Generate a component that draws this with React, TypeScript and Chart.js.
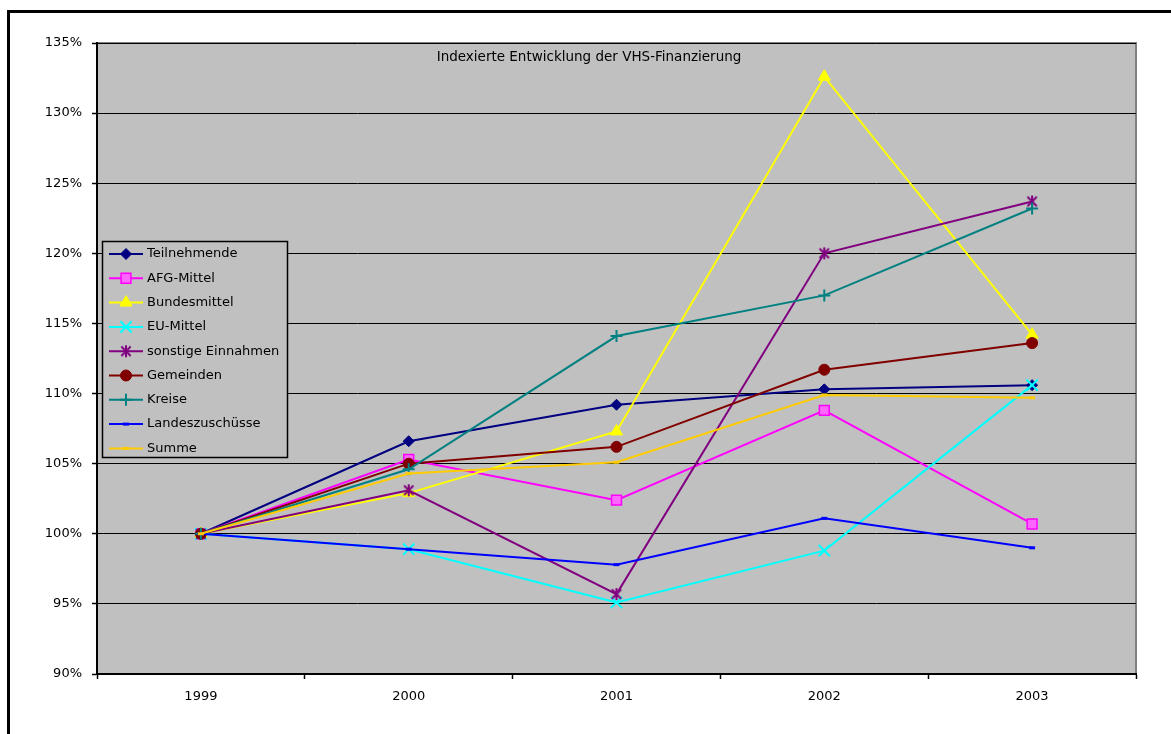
import React, { useEffect, useRef } from 'react';
import { Chart, registerables } from 'chart.js';
import { drawPoint } from 'chart.js/helpers';

Chart.register(...registerables);

// Index values (1999 = 100 %)
const years = ['1999', '2000', '2001', '2002', '2003'];
const teilnehmende = [100, 106.6, 109.2, 110.3, 110.6];
const afgMittel = [100, 105.3, 102.4, 108.8, 100.7];
const bundesmittel = [100, 102.9, 107.3, 132.6, 114.2];
const euMittel = [100, 98.9, 95.1, 98.8, 110.6];
const sonstigeEinnahmen = [100, 103.1, 95.7, 120.0, 123.7];
const gemeinden = [100, 105.0, 106.2, 111.7, 113.6];
const kreise = [100, 104.6, 114.1, 117.0, 123.2];
const landeszuschuesse = [100, 98.9, 97.8, 101.1, 99.0];
const summe = [100, 104.3, 105.1, 109.9, 109.7];

const yMin = 90;
const yMax = 135;
const yStep = 5;

const chartTitle = 'Indexierte Entwicklung der VHS-Finanzierung';

const W = 1171;
const H = 734;
const FONT = '"DejaVu Sans", Tahoma, Verdana, sans-serif';

function makeStar(color: string, size: number): HTMLCanvasElement {
  const c = document.createElement('canvas');
  c.width = size;
  c.height = size;
  const g = c.getContext('2d')!;
  g.strokeStyle = color;
  g.lineWidth = 2;
  const m = size / 2;
  const r = size / 2 - 1;
  const d = r * 0.78;
  g.beginPath();
  g.moveTo(m, m - r);
  g.lineTo(m, m + r);
  g.moveTo(m - d, m - d);
  g.lineTo(m + d, m + d);
  g.moveTo(m + d, m - d);
  g.lineTo(m - d, m + d);
  g.stroke();
  return c;
}

type Series = {
  label: string;
  data: number[];
  color: string;
  pointStyle: any;
  radius: number;
  fill: string;
  pointBorder: number;
};

function buildSeries(): Series[] {
  return [
    { label: 'Teilnehmende', data: teilnehmende, color: '#000080', pointStyle: 'rectRot', radius: 5.5, fill: '#000080', pointBorder: 1 },
    { label: 'AFG-Mittel', data: afgMittel, color: '#FF00FF', pointStyle: 'rect', radius: 7, fill: '#FF66FF', pointBorder: 1.5 },
    { label: 'Bundesmittel', data: bundesmittel, color: '#FFFF00', pointStyle: 'triangle', radius: 7, fill: '#FFFF00', pointBorder: 1 },
    { label: 'EU-Mittel', data: euMittel, color: '#00FFFF', pointStyle: 'crossRot', radius: 8, fill: '#00FFFF', pointBorder: 2 },
    { label: 'sonstige Einnahmen', data: sonstigeEinnahmen, color: '#800080', pointStyle: makeStar('#800080', 14), radius: 7, fill: '#800080', pointBorder: 2 },
    { label: 'Gemeinden', data: gemeinden, color: '#800000', pointStyle: 'circle', radius: 5.5, fill: '#800000', pointBorder: 1 },
    { label: 'Kreise', data: kreise, color: '#008080', pointStyle: 'cross', radius: 6, fill: '#008080', pointBorder: 2 },
    { label: 'Landeszuschüsse', data: landeszuschuesse, color: '#0000FF', pointStyle: 'line', radius: 3, fill: '#0000FF', pointBorder: 3 },
    { label: 'Summe', data: summe, color: '#FFCC00', pointStyle: 'line', radius: 3, fill: '#FFCC00', pointBorder: 3 },
  ];
}

export default function App() {
  const canvasRef = useRef<HTMLCanvasElement | null>(null);

  useEffect(() => {
    const canvas = canvasRef.current;
    if (!canvas) return;
    const series = buildSeries();

    const plotArea = {
      id: 'plotArea',
      beforeDraw(chart: any) {
        const { ctx, chartArea: a } = chart;
        ctx.save();
        ctx.fillStyle = '#C0C0C0';
        ctx.fillRect(a.left, a.top, a.right - a.left, a.bottom - a.top);
        ctx.strokeStyle = '#808080';
        ctx.lineWidth = 2;
        ctx.strokeRect(a.left, a.top, a.right - a.left, a.bottom - a.top);
        ctx.restore();
      },
    };

    const titleAndLegend = {
      id: 'titleAndLegend',
      afterDraw(chart: any) {
        const { ctx } = chart;
        ctx.save();
        ctx.font = `13.5px ${FONT}`;
        ctx.fillStyle = '#000';
        ctx.textAlign = 'center';
        ctx.textBaseline = 'middle';
        ctx.fillText(chartTitle, 589, 57);

        const lx = 102.5;
        const ly = 241.5;
        const lw = 185;
        const lh = 216;
        ctx.fillStyle = '#C0C0C0';
        ctx.fillRect(lx, ly, lw, lh);
        ctx.strokeStyle = '#000';
        ctx.lineWidth = 1.5;
        ctx.strokeRect(lx, ly, lw, lh);

        series.forEach((s, i) => {
          const y = 254 + i * 24.3;
          ctx.strokeStyle = s.color;
          ctx.lineWidth = 2;
          ctx.beginPath();
          ctx.moveTo(109, y);
          ctx.lineTo(143, y);
          ctx.stroke();
          ctx.fillStyle = s.fill;
          ctx.strokeStyle = s.color;
          ctx.lineWidth = s.pointBorder;
          drawPoint(ctx, { pointStyle: s.pointStyle, radius: s.radius, rotation: 0, borderWidth: s.pointBorder } as any, 126, y);
          ctx.fillStyle = '#000';
          ctx.font = `13px ${FONT}`;
          ctx.textAlign = 'left';
          ctx.textBaseline = 'middle';
          ctx.fillText(s.label, 147, y);
        });
        ctx.restore();
      },
    };

    const chart = new Chart(canvas, {
      type: 'line',
      data: {
        labels: years,
        datasets: series.map((s, i) => ({
          label: s.label,
          data: s.data,
          order: -i,
          borderColor: s.color,
          backgroundColor: s.fill,
          borderWidth: 2,
          tension: 0,
          fill: false,
          pointStyle: s.pointStyle,
          pointRadius: s.radius,
          pointHoverRadius: s.radius,
          pointBackgroundColor: s.fill,
          pointBorderColor: s.color,
          pointBorderWidth: s.pointBorder,
        })),
      },
      options: {
        responsive: false,
        animation: false,
        devicePixelRatio: 1,
        layout: { padding: { top: 43, right: 35, bottom: 0, left: 0 } },
        plugins: {
          legend: { display: false },
          title: { display: false },
          tooltip: { enabled: false },
        },
        events: [],
        scales: {
          x: {
            type: 'category',
            offset: true,
            afterFit(scale: any) {
              scale.height = 60;
            },
            grid: {
              offset: true,
              drawOnChartArea: false,
              drawTicks: true,
              tickLength: 5,
              color: '#000',
              tickColor: '#000',
              tickWidth: 1.5,
            },
            border: { display: true, color: '#000', width: 2 },
            ticks: {
              color: '#000',
              padding: 10,
              maxRotation: 0,
              font: { family: FONT, size: 13 },
            },
          },
          y: {
            type: 'linear',
            min: yMin,
            max: yMax,
            afterFit(scale: any) {
              scale.width = 97;
            },
            grid: {
              color: '#000',
              lineWidth: 1,
              borderDash: [2, 1],
              drawTicks: true,
              tickLength: 5,
              tickColor: '#000',
              tickWidth: 1.5,
              tickBorderDash: [],
            } as any,
            border: { display: true, color: '#000', width: 2 },
            ticks: {
              stepSize: yStep,
              color: '#000',
              padding: 10,
              font: { family: FONT, size: 13 },
              callback: (v: any) => `${Math.round(Number(v))}%`,
            },
          },
        },
      },
      plugins: [plotArea, titleAndLegend],
    });

    return () => chart.destroy();
  }, []);

  return (
    <div style={{ position: 'fixed', left: 0, top: 0, width: W, height: H, overflow: 'hidden', background: '#fff' }}>
      <div
        style={{
          position: 'absolute',
          left: 7,
          top: 10,
          width: 1220,
          height: 800,
          border: '3px solid #000',
          boxSizing: 'border-box',
        }}
      />
      <canvas
        ref={canvasRef}
        width={W}
        height={H}
        style={{ position: 'absolute', left: 0, top: 0, width: W, height: H }}
      />
    </div>
  );
}
